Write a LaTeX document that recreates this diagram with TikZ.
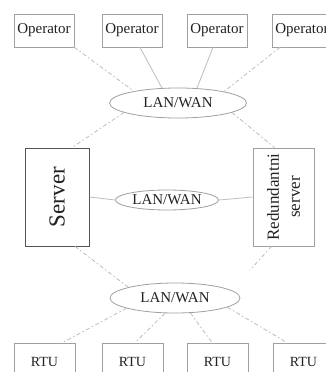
\documentclass[tikz,border=0pt]{standalone}
\usepackage{fontspec}
\setmainfont{Liberation Serif}
\usetikzlibrary{shapes.geometric,calc}
\definecolor{boxgray}{HTML}{A0A0A0}
\definecolor{darkbox}{HTML}{555555}
\definecolor{linegray}{HTML}{BDBDBD}
\definecolor{txt}{HTML}{222222}
\tikzset{
  opbox/.style={draw=boxgray, line width=0.8pt, minimum width=60pt, minimum height=33pt, inner sep=0pt, text=txt, font=\fontsize{15}{18}\selectfont},
  rtubox/.style={draw=boxgray, line width=0.8pt, minimum width=61pt, minimum height=38pt, inner sep=0pt, text=txt, font=\fontsize{14}{17}\selectfont},
  net/.style={draw=boxgray, line width=0.8pt, ellipse, inner sep=0pt, text=txt, font=\fontsize{15}{18}\selectfont},
  solidlink/.style={draw=linegray, line width=0.8pt},
  dashlink/.style={draw=linegray, line width=0.8pt, dash pattern=on 4pt off 2.5pt on 1.5pt off 2.5pt},
}
\begin{document}
\begin{tikzpicture}[x=1pt,y=-1pt]
\useasboundingbox (0,0) rectangle (326,372);
\clip (0,0) rectangle (326,372);
\fill[white] (0,0) rectangle (326,372);
% operators
\node[opbox] (op1) at (44,30.5) {Operator};
\node[opbox] (op2) at (132,30.5) {Operator};
\node[opbox] (op3) at (217,30.5) {Operator};
\node[opbox] (op4) at (302,30.5) {Operator};
% networks
\node[net, minimum width=137pt, minimum height=30pt] (lan1) at (178,103) {LAN/WAN};
\node[net, minimum width=103pt, minimum height=20pt] (lan2) at (167,200) {LAN/WAN};
\node[net, minimum width=130pt, minimum height=30pt] (lan3) at (175,298) {LAN/WAN};
% servers
\node[draw=darkbox, line width=0.8pt, minimum width=64pt, minimum height=98pt, inner sep=0pt] (srv) at (57,197) {};
\node[rotate=90, text=txt, font=\fontsize{23}{27}\selectfont, inner sep=0pt] (srvtxt) at (srv.center) {Server};
\node[draw=boxgray, line width=0.8pt, minimum width=61pt, minimum height=98pt, inner sep=0pt] (red) at (283.5,197) {};
\node[rotate=90, align=center, text=txt, font=\fontsize{17}{21}\selectfont, inner sep=0pt] (redtxt) at (red.center) {Redundantni\\server};
% RTUs
\node[rtubox] (rtu1) at (44.5,362) {RTU};
\node[rtubox] (rtu2) at (132.5,362) {RTU};
\node[rtubox] (rtu3) at (217.5,362) {RTU};
\node[rtubox] (rtu4) at (303.5,362) {RTU};
% links top
\draw[dashlink] (op1.south east) -- (lan1.165);
\draw[solidlink] ($(op2.south)+(8,0)$) -- (lan1.137);
\draw[solidlink] ($(op3.south)+(-4,0)$) -- (lan1.38);
\draw[dashlink] ($(op4.south)+(-22,0)$) -- (lan1.14);
% links to servers
\draw[dashlink] (lan1.190) -- ($(srv.north)+(15,0)$);
\draw[dashlink] (lan1.350) -- ($(red.north)+(-9,0)$);
\draw[solidlink] (srv.east) -- (lan2.west);
\draw[solidlink] (lan2.east) -- (red.west);
\draw[dashlink] ($(srv.south)+(18,0)$) -- (lan3.167);
\coordinate (redend) at (250,270);
\draw[dashlink] ($(red.south)+(-12,0)$) -- (redend);
% links bottom
\draw[dashlink] (lan3.192) -- ($(rtu1.north)+(18,0)$);
\draw[dashlink] (lan3.237) -- ($(rtu2.north)+(2.5,0)$);
\draw[dashlink] (lan3.316) -- ($(rtu3.north)+(-5.5,0)$);
\draw[dashlink] (lan3.350) -- ($(rtu4.north)+(-16.5,0)$);
\end{tikzpicture}
\end{document}
